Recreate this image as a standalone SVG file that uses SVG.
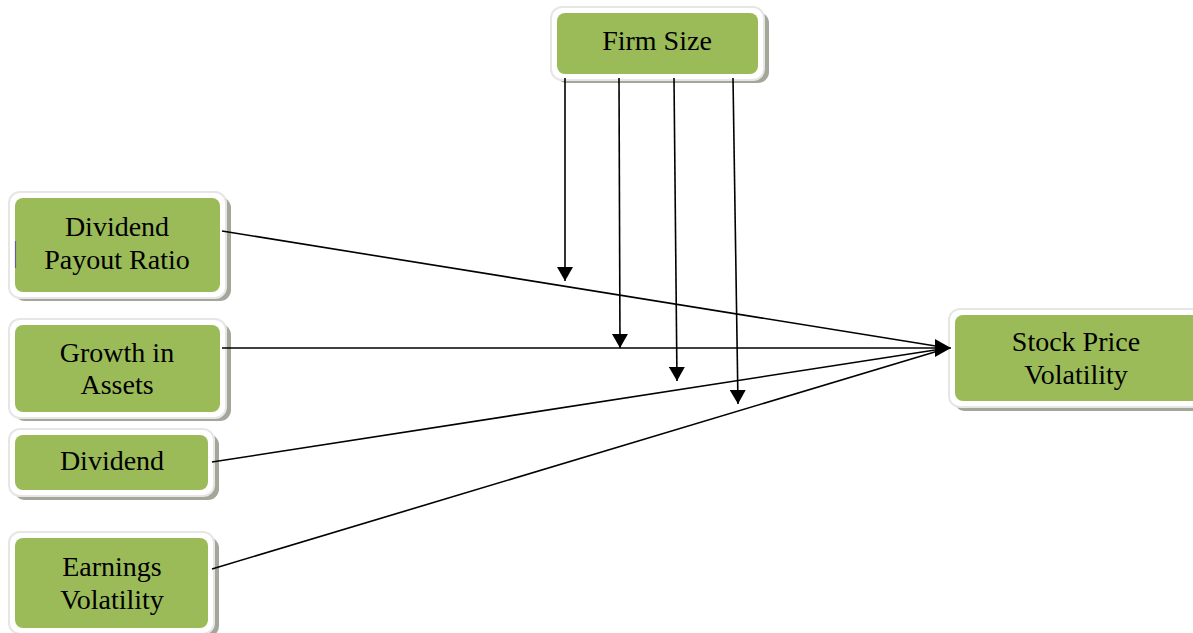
<svg xmlns="http://www.w3.org/2000/svg" width="1193" height="633" viewBox="0 0 1193 633">
<style>
.shadow{fill:#a3a79a}
.frame{fill:#ffffff;stroke:#e6e6e6;stroke-width:2}
.box{fill:#9bbb59}
.lbl{font-family:"Liberation Serif","Times New Roman",serif;font-size:28px;fill:#000;text-anchor:middle}
.edge{stroke:#000;stroke-width:1.6;fill:none}
</style>
<defs>
<marker id="ah" viewBox="0 0 16 18" refX="16" refY="9" markerWidth="16" markerHeight="18" markerUnits="userSpaceOnUse" orient="auto">
<path d="M0,0 L16,9 L0,18 Z" fill="#000"/>
</marker>
<marker id="av" viewBox="0 0 14 16" refX="14" refY="8" markerWidth="14" markerHeight="16" markerUnits="userSpaceOnUse" orient="auto">
<path d="M0,0 L14,8 L0,16 Z" fill="#000"/>
</marker>
</defs>
<rect width="1193" height="633" fill="#ffffff"/>

<g id="firm-size">
<rect class="shadow" x="556" y="12" width="213" height="71" rx="11"/>
<rect class="frame" x="551" y="7" width="213" height="73" rx="11"/>
<rect class="box" x="557" y="13" width="201" height="61" rx="8"/>
<text class="lbl" x="657" y="50">Firm Size</text>
</g>

<g id="dividend-payout-ratio">
<rect class="shadow" x="14" y="197" width="217" height="104" rx="11"/>
<rect class="frame" x="9" y="192" width="217" height="106" rx="11"/>
<rect class="box" x="15" y="198" width="205" height="94" rx="8"/>
<line x1="15.5" y1="241" x2="15.5" y2="268" stroke="#6a5a9a" stroke-width="1.2"/>
<text class="lbl" x="117" y="236">Dividend</text>
<text class="lbl" x="117" y="269">Payout Ratio</text>
</g>

<g id="growth-in-assets">
<rect class="shadow" x="14" y="324" width="217" height="97" rx="11"/>
<rect class="frame" x="9" y="319" width="217" height="99" rx="11"/>
<rect class="box" x="15" y="325" width="205" height="87" rx="8"/>
<text class="lbl" x="117" y="362">Growth in</text>
<text class="lbl" x="117" y="394">Assets</text>
</g>

<g id="dividend">
<rect class="shadow" x="14" y="434" width="205" height="66" rx="11"/>
<rect class="frame" x="9" y="429" width="205" height="67" rx="11"/>
<rect class="box" x="15" y="435" width="193" height="55" rx="8"/>
<text class="lbl" x="112" y="470">Dividend</text>
</g>

<g id="earnings-volatility">
<rect class="shadow" x="14" y="537" width="205" height="100" rx="11"/>
<rect class="frame" x="9" y="532" width="205" height="102" rx="11"/>
<rect class="box" x="15" y="538" width="193" height="90" rx="8"/>
<text class="lbl" x="112" y="576">Earnings</text>
<text class="lbl" x="112" y="609">Volatility</text>
</g>

<g id="stock-price-volatility">
<rect class="shadow" x="954" y="314" width="260" height="97" rx="11"/>
<rect class="frame" x="949" y="309" width="260" height="98" rx="11"/>
<rect class="box" x="955" y="315" width="250" height="86" rx="8"/>
<text class="lbl" x="1076" y="351">Stock Price</text>
<text class="lbl" x="1076" y="384">Volatility</text>
</g>

<g id="connectors">
<line class="edge" x1="222" y1="231" x2="948" y2="348"/>
<line class="edge" x1="222" y1="348" x2="951" y2="348" marker-end="url(#ah)"/>
<line class="edge" x1="212" y1="462" x2="948" y2="348"/>
<line class="edge" x1="212" y1="569" x2="948" y2="348"/>
<line class="edge" x1="565" y1="78" x2="565" y2="281" marker-end="url(#av)"/>
<line class="edge" x1="619" y1="78" x2="620" y2="348" marker-end="url(#av)"/>
<line class="edge" x1="674" y1="78" x2="677" y2="381" marker-end="url(#av)"/>
<line class="edge" x1="733" y1="78" x2="738" y2="404" marker-end="url(#av)"/>
</g>
</svg>
